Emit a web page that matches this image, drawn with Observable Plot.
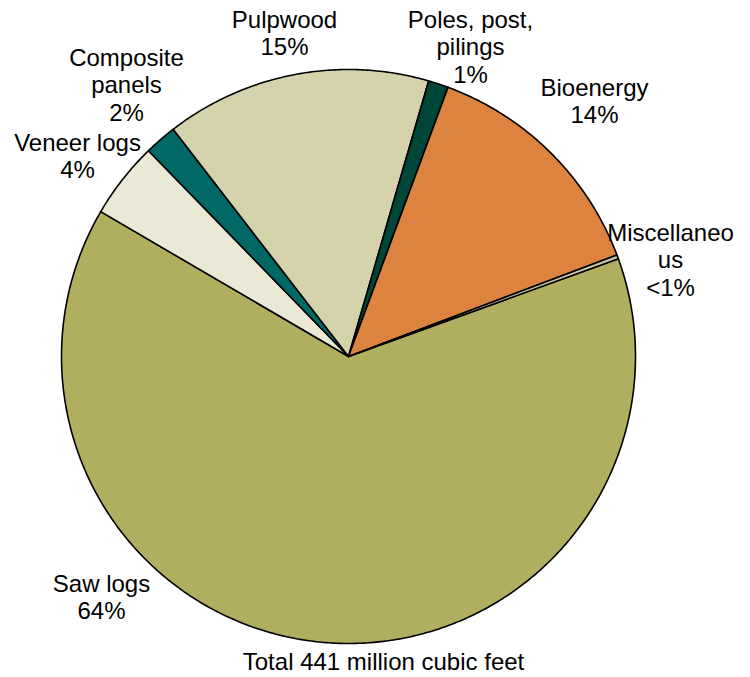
<!DOCTYPE html>
<html>
<head>
<meta charset="utf-8">
<script src="https://cdn.jsdelivr.net/npm/d3@7"></script>
<script src="https://cdn.jsdelivr.net/npm/@observablehq/plot@0.6"></script>
<style>
  html, body { margin: 0; padding: 0; background: #fff; }
  #chart svg { display: block; }
</style>
</head>
<body>
<div id="chart"></div>
<script>
// ---- Data (million cubic feet; total 441) ----
const categories = ["Saw logs", "Veneer logs", "Composite panels", "Pulpwood", "Poles, post, pilings", "Bioenergy", "Miscellaneous"];
const values     = [282, 19, 8, 66, 5, 60, 1];
const labelTexts = ["Saw logs\n64%", "Veneer logs\n4%", "Composite\npanels\n2%", "Pulpwood\n15%", "Poles, post,\npilings\n1%", "Bioenergy\n14%", "Miscellaneo\nus\n<1%"];
const caption    = "Total 441 million cubic feet";

// ---- Styling / layout (kept separate from data) ----
const colors = ["#B2AE60", "#EAE9D6", "#006966", "#D5D3AC", "#004638", "#DC843F", "#C9C6A0"];
const labelPos = [[101, 596], [77, 155], [126, 84], [284, 32], [470, 46], [594, 100], [670, 259]];
const W = 750, H = 677;
const cx = 348, cy = 356, R = 287;
const startDeg = 70.1;

const pie = d3.pie().sort(null).value(d => d.value)
  .startAngle(startDeg * Math.PI / 180)
  .endAngle(startDeg * Math.PI / 180 + 2 * Math.PI);

const slices = pie(categories.map((c, i) => ({name: c, value: values[i], color: colors[i]})));

// polygon points for each slice
const pts = [];
for (const s of slices) {
  const n = Math.max(2, Math.ceil((s.endAngle - s.startAngle) / (Math.PI / 360)));
  pts.push({name: s.data.name, color: s.data.color, x: cx, y: cy});
  for (let k = 0; k <= n; k++) {
    const a = s.startAngle + (s.endAngle - s.startAngle) * k / n;
    pts.push({name: s.data.name, color: s.data.color, x: cx + R * Math.sin(a), y: cy - R * Math.cos(a)});
  }
  pts.push({name: s.data.name, color: s.data.color, x: cx, y: cy});
}

const labels = categories.map((c, i) => ({text: labelTexts[i], x: labelPos[i][0], y: labelPos[i][1]}));

const chart = Plot.plot({
  width: W,
  height: H,
  margin: 0,
  style: {fontFamily: "'Liberation Sans', Arial, sans-serif", background: "#fff"},
  x: {domain: [0, W], range: [0, W], axis: null},
  y: {domain: [0, H], range: [0, H], axis: null},
  marks: [
    Plot.line(pts, {x: "x", y: "y", z: "name", fill: "color", stroke: "#000", strokeWidth: 1.6, strokeLinejoin: "round", curve: "linear"}),
    Plot.text(labels, {x: "x", y: "y", text: "text", fontSize: 24, lineHeight: 1.15, fill: "#000", textAnchor: "middle"}),
    Plot.text([caption], {x: [383], y: [662.3], text: d => d, fontSize: 24, fill: "#000", textAnchor: "middle"})
  ]
});
document.getElementById("chart").appendChild(chart);
</script>
</body>
</html>
